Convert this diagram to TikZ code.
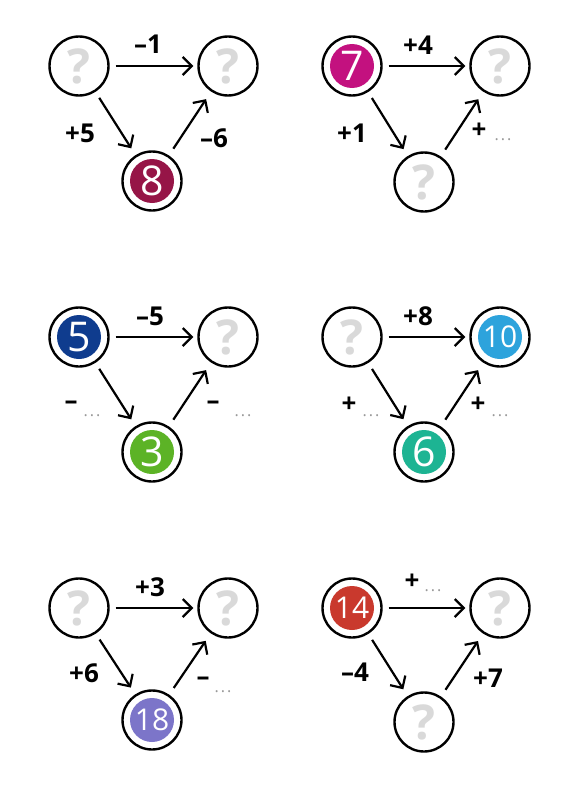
\documentclass[tikz,border=0pt]{standalone}
\usepackage{fontspec}
\setmainfont{Open Sans}
\usetikzlibrary{arrows.meta}
\definecolor{cmaroon}{HTML}{961547}
\definecolor{cmagenta}{HTML}{C3117F}
\definecolor{cnavy}{HTML}{0F3C8E}
\definecolor{cgreen}{HTML}{5CB326}
\definecolor{cblue}{HTML}{2DA3DC}
\definecolor{cteal}{HTML}{1DB493}
\definecolor{cpurple}{HTML}{7C75C9}
\definecolor{cred}{HTML}{C9392D}
\definecolor{qgray}{HTML}{D9D9D9}
\newcommand{\dd}{.\kern2pt.\kern2pt.}
\begin{document}
\begin{tikzpicture}[x=1pt,y=-1pt,
  ring/.style={circle,draw=black,line width=2.4pt,fill=white,minimum size=59pt,inner sep=0pt},
  qm/.style={ring,text=qgray,font=\fontsize{48}{48}\selectfont\bfseries},
  numc/.style={ring,text=white,font=\fontsize{41}{41}\selectfont,
    path picture={\fill[#1] (path picture bounding box.center) circle (22pt);}},
  numcc/.style={numc=#1,font=\fontsize{30}{30}\selectfont},
  arr/.style={line width=2.2pt,-{Straight Barb[length=9pt,width=18pt,line width=2.2pt]},
    shorten <=6pt,shorten >=4pt},
  darr/.style={arr,shorten <=7pt,shorten >=8pt},
  uarr/.style={arr,shorten <=8pt,shorten >=9pt},
  lab/.style={font=\fontsize{26}{26}\selectfont\bfseries},
  dts/.style={font=\fontsize{16}{16}\selectfont,text=black!40}]
\useasboundingbox[fill=white] (0,0) rectangle (587,800);

% Panel 1
\node[qm] (A1) at (79,66) {?};
\node[qm] (B1) at (228,66) {?};
\node[numc=cmaroon] (C1) at (152,181) {8};
\draw[arr] (A1) -- (B1);
\draw[darr] (A1) -- (C1);
\draw[uarr] (C1) -- (B1);
\node[lab] (l1a) at (148,44) {–1};
\node[lab] (l1b) at (80,133) {+5};
\node[lab] (l1c) at (214,138) {–6};

% Panel 2
\node[numc=cmagenta] (A2) at (352,66) {7};
\node[qm] (B2) at (500,66) {?};
\node[qm] (C2) at (424,182) {?};
\draw[arr] (A2) -- (B2);
\draw[darr] (A2) -- (C2);
\draw[uarr] (C2) -- (B2);
\node[lab] (l2a) at (418,45) {+4};
\node[lab] (l2b) at (352,133) {+1};
\node[lab] (l2c) at (479,131) {+};
\node[dts] (d2c) at (503,140) {\dd};

% Panel 3
\node[numc=cnavy] (A3) at (79,337) {5};
\node[qm] (B3) at (228,337) {?};
\node[numc=cgreen] (C3) at (152,452) {3};
\draw[arr] (A3) -- (B3);
\draw[darr] (A3) -- (C3);
\draw[uarr] (C3) -- (B3);
\node[lab] (l3a) at (150,316) {–5};
\node[lab] (l3b) at (71,405) {–};
\node[dts] (d3b) at (92,416) {\dd};
\node[lab] (l3c) at (213,405) {–};
\node[dts] (d3c) at (243,416) {\dd};

% Panel 4
\node[qm] (A4) at (352,337) {?};
\node[numcc=cblue] (B4) at (500,337) {10};
\node[numc=cteal] (C4) at (424,452) {6};
\draw[arr] (A4) -- (B4);
\draw[darr] (A4) -- (C4);
\draw[uarr] (C4) -- (B4);
\node[lab] (l4a) at (418,316) {+8};
\node[lab] (l4b) at (349,405) {+};
\node[dts] (d4b) at (371,416) {\dd};
\node[lab] (l4c) at (478,405) {+};
\node[dts] (d4c) at (500,416) {\dd};

% Panel 5
\node[qm] (A5) at (79,608) {?};
\node[qm] (B5) at (228,608) {?};
\node[numcc=cpurple] (C5) at (152,720) {18};
\draw[arr] (A5) -- (B5);
\draw[darr] (A5) -- (C5);
\draw[uarr] (C5) -- (B5);
\node[lab] (l5a) at (150,587) {+3};
\node[lab] (l5b) at (84,673) {+6};
\node[lab] (l5c) at (203,681) {–};
\node[dts] (d5c) at (223,692) {\dd};

% Panel 6
\node[numcc=cred] (A6) at (352,608) {14};
\node[qm] (B6) at (500,608) {?};
\node[qm] (C6) at (424,722) {?};
\draw[arr] (A6) -- (B6);
\draw[darr] (A6) -- (C6);
\draw[uarr] (C6) -- (B6);
\node[lab] (l6a) at (412,582) {+};
\node[dts] (d6a) at (433,591) {\dd};
\node[lab] (l6b) at (355,672) {–4};
\node[lab] (l6c) at (488,678) {+7};
\end{tikzpicture}
\end{document}
